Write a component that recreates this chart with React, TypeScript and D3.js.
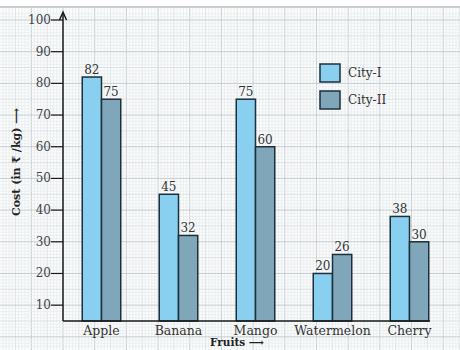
import React from "react";
import * as d3 from "d3";

const fruits = ["Apple", "Banana", "Mango", "Watermelon", "Cherry"];
const cityI = [82, 45, 75, 20, 38];
const cityII = [75, 32, 60, 26, 30];
const seriesNames = ["City-I", "City-II"];
const yTicks = [10, 20, 30, 40, 50, 60, 70, 80, 90, 100];

const W = 460;
const H = 350;
const colors = ["#89d0f0", "#7fa6b9"];
const serif = "'DejaVu Serif', 'Liberation Serif', serif";

export default function App() {
  const axisX = 63;
  const y = d3.scaleLinear().domain([5, 100]).range([321, 20]);
  const x = d3.scaleBand().domain(fruits).range([axisX, axisX + 5 * 77]).paddingInner(0.5).paddingOuter(0.25);
  const xs = d3.scaleBand().domain(seriesNames).range([0, x.bandwidth()]);
  const unit = y(0) - y(1);

  const hLines: number[] = [];
  for (let v = 102; v >= -3; v -= 1) hLines.push(v);
  const vLines: number[] = [];
  for (let k = -20; k <= 130; k++) vLines.push(axisX + k * unit);

  const series = [cityI, cityII];

  return (
    <svg width={W} height={H} style={{ position: "absolute", left: 0, top: 0, background: "#fdfdfd" }}>
      <rect x={0} y={7} width={W} height={H - 7} fill="#fbfcfc" />
      <line x1={0} x2={W} y1={7} y2={7} stroke="#c9cccf" strokeWidth={2} />
      {vLines.map((vx, i) => {
        const k = i - 20;
        const major = k % 10 === 0;
        const mid = k % 5 === 0;
        return vx >= 0 && vx <= W ? (
          <line key={"v" + i} x1={vx} x2={vx} y1={8} y2={H} stroke={major ? "#c4ccd2" : mid ? "#d6dce0" : "#e9ecee"} strokeWidth={major ? 1 : 0.8} />
        ) : null;
      })}
      {hLines.map((v) => {
        const py = y(v);
        const major = v % 10 === 0;
        const mid = v % 5 === 0;
        return py > 8 && py < H ? (
          <line key={"h" + v} x1={0} x2={W} y1={py} y2={py} stroke={major ? "#c4ccd2" : mid ? "#d6dce0" : "#e9ecee"} strokeWidth={major ? 1 : 0.8} />
        ) : null;
      })}

      {/* bars */}
      {fruits.map((f, i) => (
        <g key={f}>
          {series.map((s, j) => {
            const bx = (x(f) as number) + (xs(seriesNames[j]) as number);
            return (
              <g key={j}>
                <rect x={bx} y={y(s[i])} width={xs.bandwidth()} height={y(5) - y(s[i])} fill={colors[j]} stroke="#1d2f3a" strokeWidth={1.5} />
                <text x={bx + xs.bandwidth() / 2} y={y(s[i]) - 3} textAnchor="middle" fontFamily={serif} fontSize={12} fill="#333">{s[i]}</text>
              </g>
            );
          })}
          <text x={(x(f) as number) + x.bandwidth() / 2} y={335} textAnchor="middle" fontFamily={serif} fontSize={12.5} fill="#333">{f}</text>
        </g>
      ))}

      {/* axes */}
      <line x1={axisX} x2={axisX} y1={321} y2={14} stroke="#1a1a1a" strokeWidth={1.5} />
      <path d={`M${axisX - 3.5},${20} L${axisX},${12} L${axisX + 3.5},${20}`} fill="none" stroke="#1a1a1a" strokeWidth={1.5} />
      <line x1={axisX} x2={430} y1={321} y2={321} stroke="#1a1a1a" strokeWidth={1.5} />
      {yTicks.map((t) => (
        <g key={t}>
          <line x1={axisX - 12} x2={axisX} y1={y(t)} y2={y(t)} stroke="#1a1a1a" strokeWidth={1.2} />
          <text x={axisX - 12} y={y(t) + 4} textAnchor="end" fontFamily={serif} fontSize={12} fill="#444">{t}</text>
        </g>
      ))}

      {/* axis titles */}
      <text x={210} y={346} fontFamily={serif} fontSize={10.5} fontWeight="bold" fill="#222">Fruits ⟶</text>
      <text transform="translate(20,162) rotate(-90)" textAnchor="middle" fontFamily={serif} fontSize={11} fontWeight="bold" fill="#222">Cost (in ₹ /kg) ⟶</text>

      {/* legend */}
      {seriesNames.map((n, j) => (
        <g key={n}>
          <rect x={320} y={64 + j * 27} width={20} height={18} fill={colors[j]} stroke="#1d2f3a" strokeWidth={1.5} />
          <text x={348} y={77 + j * 27} fontFamily={serif} fontSize={12} fill="#333">{n}</text>
        </g>
      ))}
    </svg>
  );
}
